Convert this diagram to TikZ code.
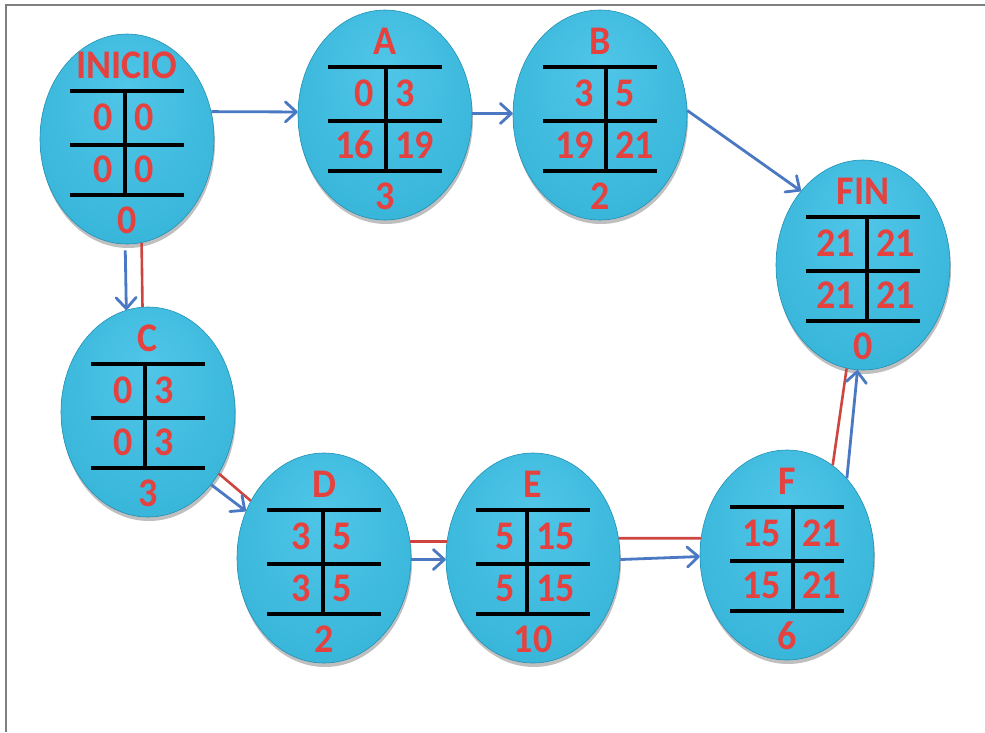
\documentclass[tikz,border=0pt]{standalone}
\usepackage{fontspec}
\setmainfont{Carlito}
\usetikzlibrary{arrows.meta,shadows,shapes.geometric}

% colours
\definecolor{bubA}{HTML}{50C6E8}
\definecolor{bubB}{HTML}{38B6DA}
\definecolor{bubC}{HTML}{2DA8CD}
\definecolor{bubD}{HTML}{1C8BB0}
\definecolor{bubEdge}{HTML}{2290B4}
\definecolor{txtred}{HTML}{E5413F}
\definecolor{flowblue}{HTML}{4A78C2}
\definecolor{critred}{HTML}{CE4540}
\definecolor{framegray}{HTML}{7F7F7F}

\pgfdeclareradialshading{bubble}{\pgfpoint{0bp}{12bp}}{%
  color(0bp)=(bubA); color(30bp)=(bubB); color(45bp)=(bubC); color(50bp)=(bubD)}

% numbers and titles are set slightly taller than wide
\newcommand\tall[1]{\scalebox{1}[1.07]{#1}}

\tikzset{
  bubble/.style={ellipse, minimum width=174pt, minimum height=210pt, inner sep=0pt,
    shading=bubble, draw=bubEdge, line width=0.6pt,
    drop shadow={shadow xshift=1pt, shadow yshift=-4pt, opacity=.25, fill=black}},
  rule/.style={line width=4.5pt, black},
  txt/.style={inner sep=0pt, text=txtred, font=\bfseries\fontsize{38}{38}\selectfont},
  flow/.style={draw=flowblue, line width=2.8pt,
    -{Straight Barb[length=11pt,width=20pt,round]}},
  crit/.style={draw=critred, line width=2.6pt},
  frame/.style={draw=framegray, line width=2pt}
}

% activity bubble: name, centre, title, offset of the vertical rule,
% early start, early finish, late start, late finish, duration
\newcommand\actnode[9]{%
  \node[bubble] (#1) at #2 {};
  \node[txt] (#1-t) at ([shift={(0,-74)}]#1.center) {\tall{#3}};
  \draw[rule] ([shift={(-57,-48)}]#1.center) -- ([shift={(57,-48)}]#1.center);
  \draw[rule] ([shift={(-57,6)}]#1.center) -- ([shift={(57,6)}]#1.center);
  \draw[rule] ([shift={(-57,56)}]#1.center) -- ([shift={(57,56)}]#1.center);
  \draw[rule, line width=4pt] ([shift={(#4,-48)}]#1.center) -- ([shift={(#4,56)}]#1.center);
  \node[txt, anchor=east] (#1-es) at ([shift={(#4-12,-22)}]#1.center) {\tall{#5}};
  \node[txt, anchor=west] (#1-ef) at ([shift={(#4+9,-22)}]#1.center) {\tall{#6}};
  \node[txt, anchor=east] (#1-ls) at ([shift={(#4-12,30)}]#1.center) {\tall{#7}};
  \node[txt, anchor=west] (#1-lf) at ([shift={(#4+9,30)}]#1.center) {\tall{#8}};
  \node[txt] (#1-d) at ([shift={(0,81)}]#1.center) {\tall{#9}};
}

\begin{document}
\begin{tikzpicture}[x=1pt, y=-1pt]
  \useasboundingbox (0,0) rectangle (985,732);
  \fill[white] (0,0) rectangle (985,732);
  \draw[frame] (985,5) -- (6,5) -- (6,732);

  \actnode{INICIO}{(127,139)}{INICIO}{-2}{0}{0}{0}{0}{0}
  \actnode{A}{(385,115)}{A}{1}{0}{3}{16}{19}{3}
  \actnode{B}{(600,115)}{B}{6}{3}{5}{19}{21}{2}
  \actnode{FIN}{(863,265)}{FIN}{4}{21}{21}{21}{21}{0}
  \actnode{C}{(148,412)}{C}{-3}{0}{3}{0}{3}{3}
  \actnode{D}{(324,558)}{D}{-1}{3}{5}{3}{5}{2}
  \actnode{E}{(533,558)}{E}{-6}{5}{15}{5}{15}{10}
  \actnode{F}{(787,555)}{F}{6}{15}{21}{15}{21}{6}

  % precedence links (blue) and critical path (red)
  \draw[flow] (INICIO.18) -- (A.178);
  \draw[flow] (A.1) -- (B.179);
  \draw[flow] (B.3) -- (FIN.130);
  \draw[crit] (INICIO.-82) -- (C.93);
  \draw[flow, shorten <=6pt] (INICIO.-91) -- (C.102);
  \draw[crit] (C.-41) -- (D.142);
  \draw[flow] (C.-49) -- (D.149);
  \draw[crit] (D.11) -- (E.169);
  \draw[flow] (D.-1) -- (E.181);
  \draw[crit] (E.13) -- (F.169);
  \draw[flow] (E.-1) -- (F.-179);
  \draw[crit] (F.63) -- (FIN.-99);
  \draw[flow] (F.52) -- (FIN.-93);
\end{tikzpicture}
\end{document}
